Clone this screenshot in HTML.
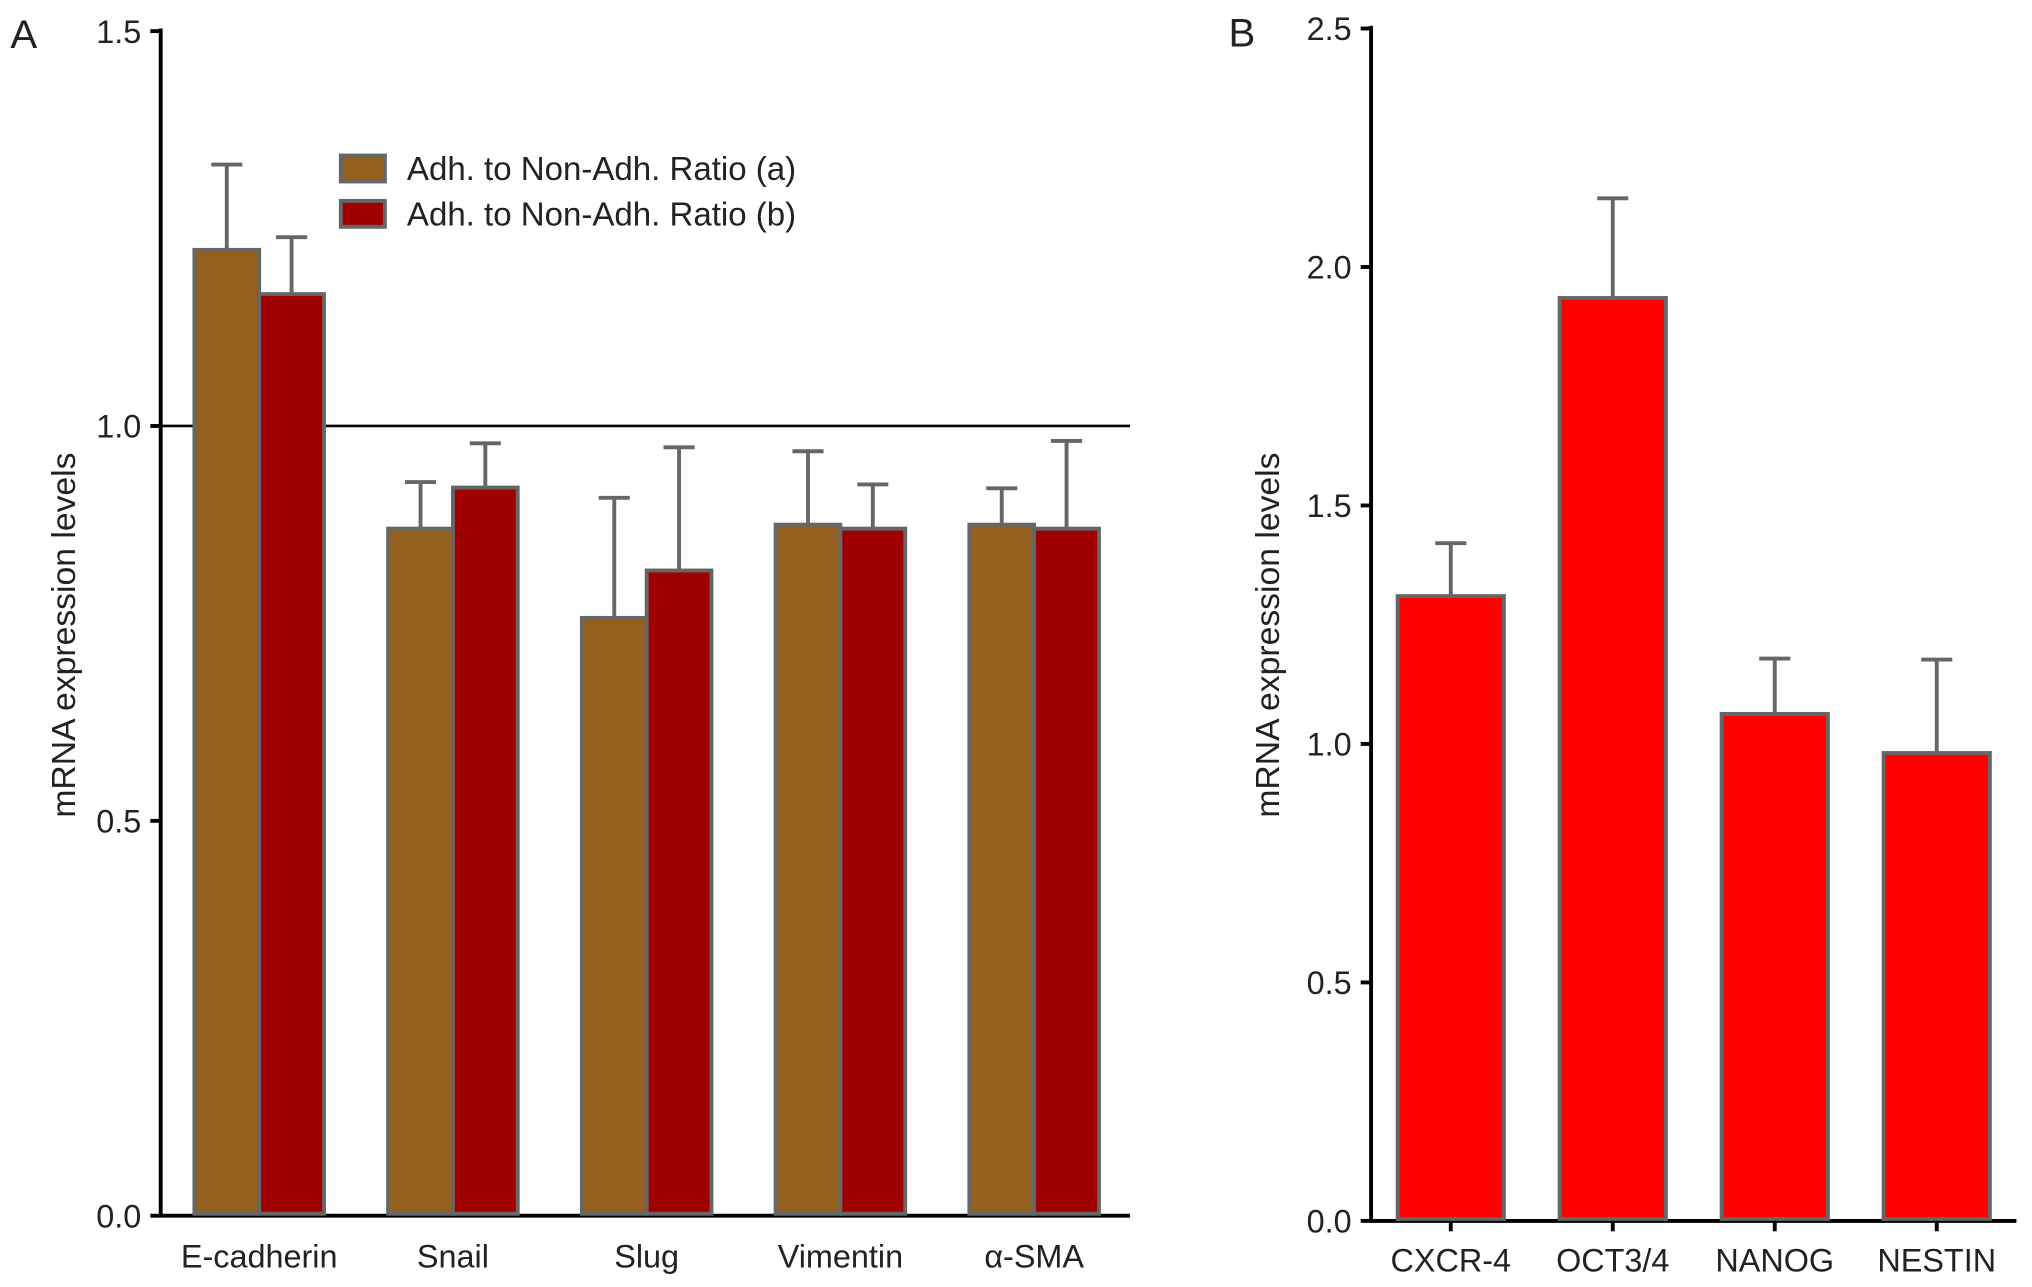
<!DOCTYPE html>
<html><head><meta charset="utf-8"><style>
html,body{margin:0;padding:0;background:#fff;}
svg{display:block;}
text{font-family:"Liberation Sans",Arial,sans-serif;fill:#222;}
</style></head><body>
<svg id="fig" width="2032" height="1287" viewBox="0 0 1568 993" preserveAspectRatio="none" xmlns="http://www.w3.org/2000/svg">
<text x="8" y="37" font-size="31">A</text>
<text x="948" y="36" font-size="31">B</text>
<g id="chartA"></g>
<g id="chartB"></g>
</svg>
<script>
const catsA = ["E-cadherin","Snail","Slug","Vimentin","α-SMA"];
const seriesA = [1.223,0.870,0.757,0.875,0.875];
const seriesAerr = [1.331,0.929,0.909,0.968,0.921];
const seriesB = [1.167,0.922,0.817,0.870,0.870];
const seriesBerr = [1.239,0.978,0.973,0.926,0.981];
const ticksA = ["0.0","0.5","1.0","1.5"];
const catsB = ["CXCR-4","OCT3/4","NANOG","NESTIN"];
const valsB = [1.310,1.935,1.063,0.981];
const errB = [1.421,2.144,1.179,1.177];
const ticksB = ["0.0","0.5","1.0","1.5","2.0","2.5"];

const NS="http://www.w3.org/2000/svg";
function mk(parent,tag,attrs,txt){const e=document.createElementNS(NS,tag);for(const k in attrs)e.setAttribute(k,attrs[k]);if(txt!==undefined)e.textContent=txt;parent.appendChild(e);return e;}

// Chart A
const gA=document.getElementById('chartA');
const yA=v=>938-(v/1.5)*(938-24);
const xA=i=>200+i*149.5;
mk(gA,'line',{x1:124,y1:938,x2:872,y2:938,stroke:'#000','stroke-width':3});
mk(gA,'line',{x1:124,y1:22,x2:124,y2:939,stroke:'#000','stroke-width':3});
ticksA.forEach(t=>{const y=yA(parseFloat(t));
  const l=mk(gA,'line',{x1:116,y1:y,x2:124,y2:y,stroke:'#000','stroke-width':3});
  
  const tx=mk(gA,'text',{x:109,y:y+9,'font-size':25,'text-anchor':'end'},t);
  
  
});
const ref=mk(gA,'line',{x1:124,y1:yA(1),x2:872,y2:yA(1),stroke:'#000','stroke-width':2});

const ytA=mk(gA,'text',{x:0,y:0,'font-size':26,'text-anchor':'middle',transform:'translate(58,490) rotate(-90)'},'mRNA expression levels');


function bar(g,x,w,v,e,fill,name,ys){
  const ev=mk(g,'line',{x1:x+w/2,y1:ys(v),x2:x+w/2,y2:ys(e),stroke:'#666','stroke-width':3});
  
  const cap=mk(g,'line',{x1:x+w/2-12,y1:ys(e),x2:x+w/2+12,y2:ys(e),stroke:'#666','stroke-width':3});
  
  const r=mk(g,'rect',{x:x,y:ys(v),width:w,height:ys(0)-ys(v)-1.5,fill:fill,stroke:'#666','stroke-width':3});
  
  
}
catsA.forEach((c,i)=>{
  const cx=xA(i);
  bar(gA,cx-50,50,seriesA[i],seriesAerr[i],'#94601f','bar-a-'+i,yA);
  bar(gA,cx,50,seriesB[i],seriesBerr[i],'#a00000','bar-b-'+i,yA);
  const t=mk(gA,'text',{x:cx,y:978,'font-size':25,'text-anchor':'middle'},c);
  
  
});
// legend
const lg=mk(gA,'g',{});


const s1=mk(lg,'rect',{x:263,y:120,width:34,height:20,fill:'#94601f',stroke:'#666','stroke-width':3});

const t1=mk(lg,'text',{x:314,y:139,'font-size':25.5},'Adh. to Non-Adh. Ratio (a)');


const s2=mk(lg,'rect',{x:263,y:155,width:34,height:20,fill:'#a00000',stroke:'#666','stroke-width':3});

const t2=mk(lg,'text',{x:314,y:174,'font-size':25.5},'Adh. to Non-Adh. Ratio (b)');



// Chart B
const gB=document.getElementById('chartB');
const yB=v=>942-(v/2.5)*(942-22);
const xB=i=>1119.5+i*125;
mk(gB,'line',{x1:1058,y1:942,x2:1556,y2:942,stroke:'#000','stroke-width':3});
mk(gB,'line',{x1:1058,y1:20,x2:1058,y2:943,stroke:'#000','stroke-width':3});
ticksB.forEach(t=>{const y=yB(parseFloat(t));
  const l=mk(gB,'line',{x1:1050,y1:y,x2:1058,y2:y,stroke:'#000','stroke-width':3});
  
  const tx=mk(gB,'text',{x:1043,y:y+9,'font-size':25,'text-anchor':'end'},t);
  
  
});
const ytB=mk(gB,'text',{x:0,y:0,'font-size':26,'text-anchor':'middle',transform:'translate(987,490) rotate(-90)'},'mRNA expression levels');


catsB.forEach((c,i)=>{
  const cx=xB(i);
  bar(gB,cx-41,82,valsB[i],errB[i],'#ff0000','bar-b2-'+i,yB);
  const tk=mk(gB,'line',{x1:cx,y1:942,x2:cx,y2:950,stroke:'#000','stroke-width':3});
  
  const t=mk(gB,'text',{x:cx,y:981,'font-size':25,'text-anchor':'middle'},c);
  
  
});
</script>
</body></html>
